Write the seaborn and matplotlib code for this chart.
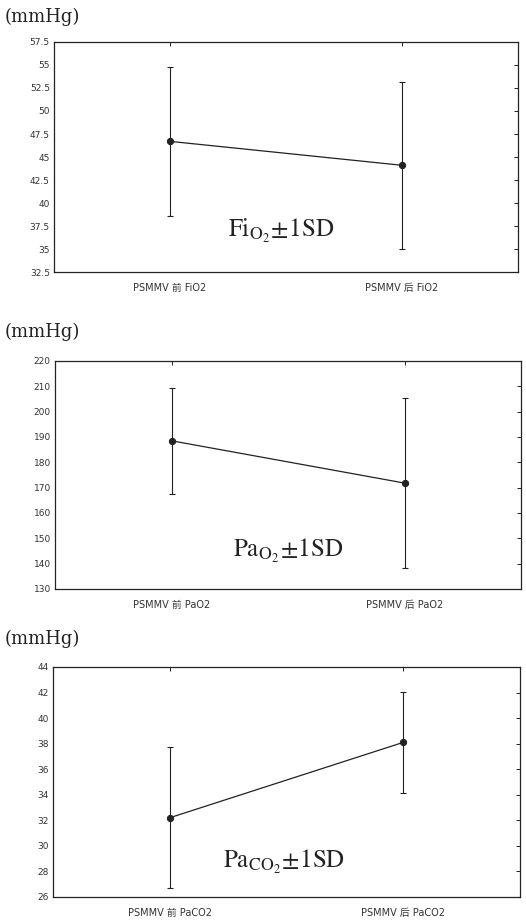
import matplotlib
matplotlib.use("Agg")
import matplotlib.pyplot as plt
import seaborn as sns
import numpy as np

sns.set_theme(style="white")
plt.rcParams['font.family'] = ['DejaVu Sans', 'Noto Sans CJK SC']
plt.rcParams['mathtext.fontset'] = 'stix'

# ---- data ----
fio2_labels = ["PSMMV 前 FiO2", "PSMMV 后 FiO2"]
fio2_mean = [46.7, 44.1]
fio2_sd = [8.1, 9.1]

pao2_labels = ["PSMMV 前 PaO2", "PSMMV 后 PaO2"]
pao2_mean = [188.5, 171.8]
pao2_sd = [21.0, 33.6]

paco2_labels = ["PSMMV 前 PaCO2", "PSMMV 后 PaCO2"]
paco2_mean = [32.2, 38.1]
paco2_sd = [5.5, 3.95]

fio2_ticks = [32.5, 35, 37.5, 40, 42.5, 45, 47.5, 50, 52.5, 55, 57.5]
pao2_ticks = [130, 140, 150, 160, 170, 180, 190, 200, 210, 220]
paco2_ticks = [26, 28, 30, 32, 34, 36, 38, 40, 42, 44]

panels = [
    (fio2_labels, fio2_mean, fio2_sd, fio2_ticks, r"$\mathrm{Fi_{O_2}\!\pm\!1SD}$",
     [0.1027, 0.7053, 0.882, 0.2492], (0.49, 0.18), 0.008),
    (pao2_labels, pao2_mean, pao2_sd, pao2_ticks, r"$\mathrm{Pa_{O_2}\!\pm\!1SD}$",
     [0.1046, 0.3619, 0.886, 0.2470], (0.50, 0.165), 0.350),
    (paco2_labels, paco2_mean, paco2_sd, paco2_ticks, r"$\mathrm{Pa_{CO_2}\!\pm\!1SD}$",
     [0.1008, 0.0282, 0.888, 0.2492], (0.495, 0.153), 0.682),
]

fig = plt.figure(figsize=(5.26, 9.23), dpi=100)
ink = "#222222"

for labels, mean, sd, ticks, note, rect, notepos, unit_y in panels:
    ax = fig.add_axes(rect)
    sns.lineplot(x=labels, y=mean, ax=ax, color=ink, marker="o", markersize=4.5,
                 markeredgecolor=ink, linewidth=0.9, sort=False)
    ax.errorbar(labels, mean, yerr=sd, fmt="none", ecolor=ink, elinewidth=0.8,
                capsize=2.5, capthick=0.8)
    ax.set_xlim(-0.5, 1.5)
    ax.set_ylim(ticks[0], ticks[-1])
    ax.set_yticks(ticks)
    ax.set_yticklabels([("%g" % t) for t in ticks], fontsize=6.5, color="#333333")
    ax.set_xticks([0, 1])
    ax.set_xticklabels(labels, fontsize=7, color="#333333")
    ax.tick_params(axis="both", direction="in", length=3, width=0.7, colors=ink,
                   top=True, right=True, labelcolor="#333333", pad=3)
    ax.tick_params(axis="x", pad=8)
    for s in ax.spines.values():
        s.set_color(ink)
        s.set_linewidth(0.9)
    ax.set_xlabel("")
    ax.set_ylabel("")
    ax.text(notepos[0], notepos[1], note, transform=ax.transAxes, ha="center",
            va="center", fontsize=18, color=ink)
    fig.text(0.008, 1 - unit_y, "(mmHg)", ha="left", va="top", fontsize=13,
             family="DejaVu Serif", color=ink)

fig.savefig("out.png", dpi=100, facecolor="white")
